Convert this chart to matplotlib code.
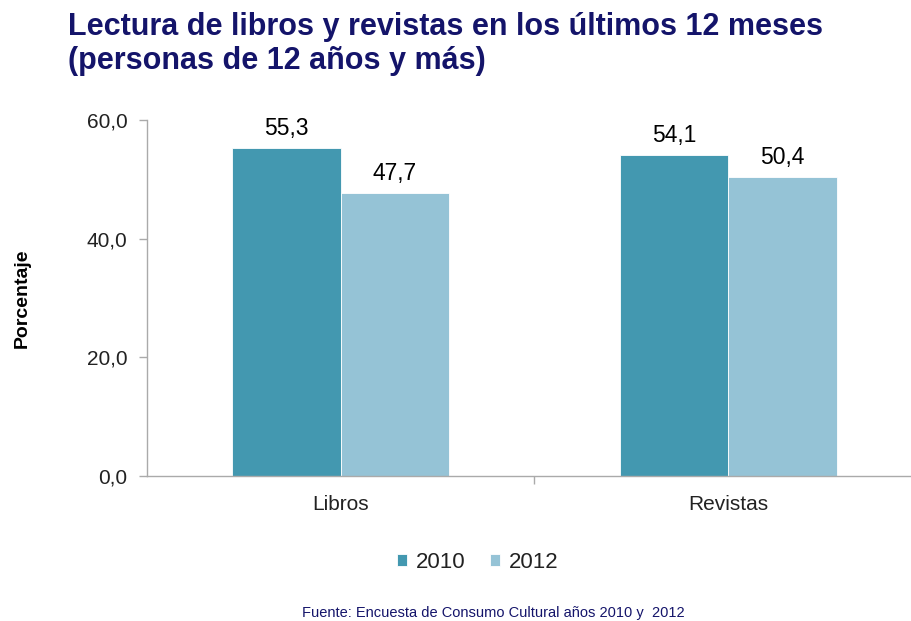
import matplotlib.pyplot as plt
import numpy as np
from matplotlib.ticker import FixedLocator

# datos
categorias = ["Libros", "Revistas"]
anios = ["2010", "2012"]
valores_2010 = [55.3, 54.1]
valores_2012 = [47.7, 50.4]
yticks = [0, 20, 40, 60]

color_2010 = "#4398b0"
color_2012 = "#95c3d6"
azul_titulo = "#14146a"

plt.rcParams['font.family'] = ['Liberation Sans', 'DejaVu Sans']

fig = plt.figure(figsize=(9.12, 6.21), dpi=100)
ax = fig.add_axes([147 / 912, 1 - 476 / 621, 775 / 912, 356 / 621])

x = np.arange(len(categorias))
w = 0.28
b1 = ax.bar(x - w / 2, valores_2010, w, color=color_2010, edgecolor="white",
            linewidth=0.6, label=anios[0])
b2 = ax.bar(x + w / 2, valores_2012, w, color=color_2012, edgecolor="white",
            linewidth=0.6, label=anios[1])

for bars in (b1, b2):
    for b in bars:
        ax.text(b.get_x() + b.get_width() / 2, b.get_height() + 1.4,
                f"{b.get_height():.1f}".replace(".", ","),
                ha="center", va="bottom", fontsize=16.5, color="black")

ax.set_xlim(-0.5, 1.5)
ax.set_ylim(0, 60)
ax.set_yticks(yticks)
ax.set_yticklabels([f"{v:.1f}".replace(".", ",") for v in yticks],
                   fontsize=15, color="#222222")
ax.set_xticks(x)
ax.set_xticklabels(categorias, fontsize=15, color="#222222")
ax.xaxis.set_minor_locator(FixedLocator([0.5]))
ax.tick_params(axis="x", which="major", length=0, pad=14)
ax.tick_params(axis="x", which="minor", length=6, color="#aaaaaa", width=1)
ax.tick_params(axis="y", length=6, color="#aaaaaa", width=1, pad=8)

for s in ("top", "right"):
    ax.spines[s].set_visible(False)
for s in ("left", "bottom"):
    ax.spines[s].set_color("#aaaaaa")
    ax.spines[s].set_linewidth(1)

fig.text(22 / 912, 1 - 298 / 621, "Porcentaje", rotation=90, ha="center",
         va="center", fontsize=14, fontweight="bold", color="black")

fig.text(68 / 912, 1 - 27 / 621, "Lectura de libros y revistas en los últimos 12 meses",
         fontsize=22, fontweight="bold", color=azul_titulo, ha="left", va="center")
fig.text(68 / 912, 1 - 61 / 621, "(personas de 12 años y más)",
         fontsize=22, fontweight="bold", color=azul_titulo, ha="left", va="center")

leg = fig.legend(handles=[b1, b2], labels=anios, loc="center",
                 bbox_to_anchor=(478 / 912, 1 - 562 / 621), ncol=2, frameon=False,
                 fontsize=16, handlelength=0.45, handleheight=0.45, handletextpad=0.4,
                 columnspacing=1.1)
for t in leg.get_texts():
    t.set_color("#222222")

fig.text(493 / 912, 1 - 613 / 621, "Fuente: Encuesta de Consumo Cultural años 2010 y  2012",
         fontsize=10.5, color=azul_titulo, ha="center", va="center")

fig.savefig("out.png", dpi=100)
